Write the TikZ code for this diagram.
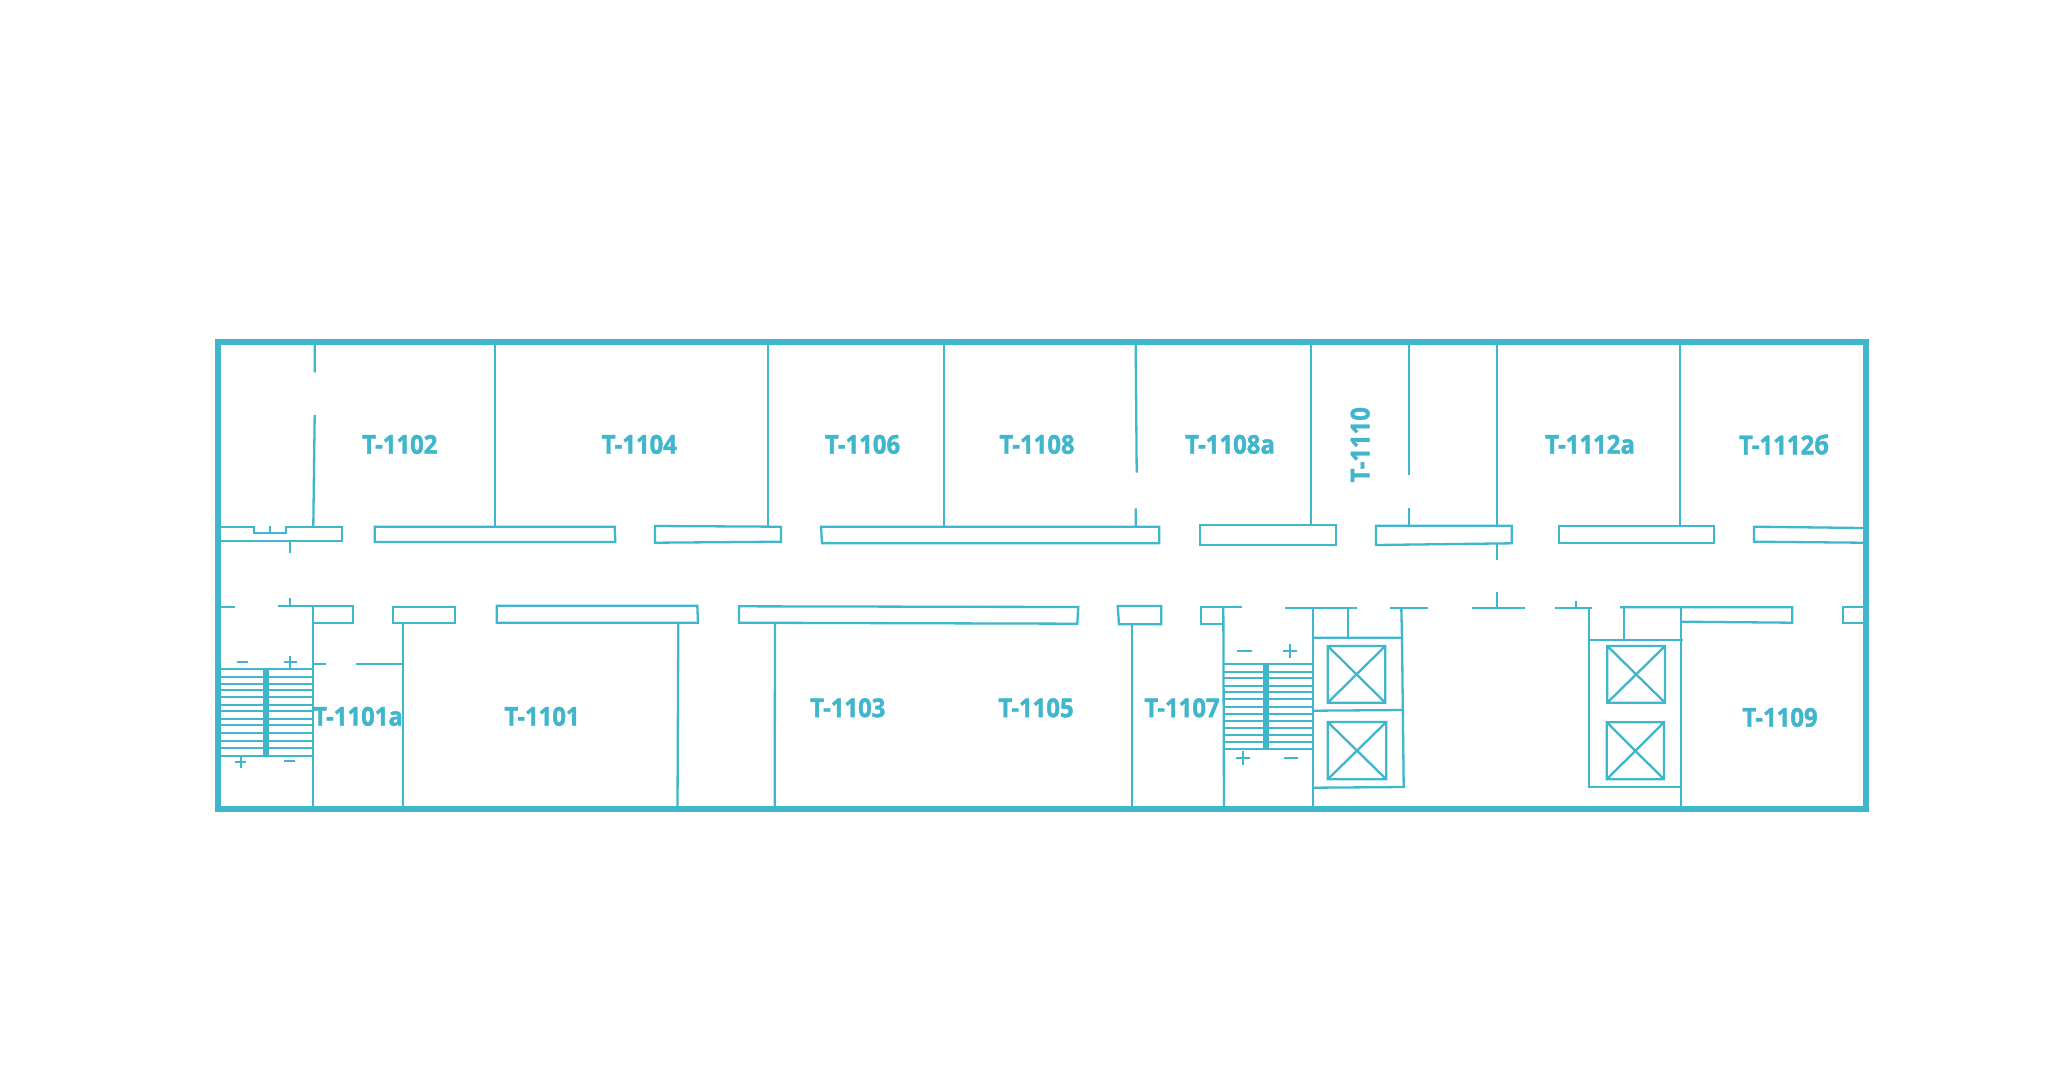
\documentclass[tikz,border=0pt]{standalone}
\usepackage{fontspec}
\newfontfamily\roomfont{Open Sans}[BoldFeatures={FakeBold=1.6}]
\definecolor{wallc}{HTML}{3FB6CC}
\newcommand{\rl}[1]{\scalebox{0.92}[1]{#1}}
\tikzset{
  wall/.style={draw=wallc,line width=2.3pt,line cap=butt,line join=miter},
  outer/.style={draw=wallc,line width=6pt,line join=miter},
  bar/.style={draw=wallc,line width=6pt},
  room/.style={text=wallc,inner sep=0pt,font=\roomfont\bfseries\fontsize{26}{26}\selectfont,text depth=0pt,anchor=center}
}
\begin{document}
\begin{tikzpicture}[x=1pt,y=-1pt]
\useasboundingbox (0,0) rectangle (2048,1080);
\fill[white] (0,0) rectangle (2048,1080);
% outer frame
\draw[outer] (218,342.2) rectangle (1866,809);
% upper room walls
\draw[wall] (314.7,345)--(314.7,372.3) (314.7,415)--(313.3,526);
\draw[wall] (494.7,345)--(494.7,526.7);
\draw[wall] (768.3,345)--(768.3,526.7);
\draw[wall] (943.7,345)--(943.7,526.7);
\draw[wall] (1135.7,345)--(1136.7,472.7) (1135.7,508.3)--(1135.7,526.7);
\draw[wall] (1310.7,345)--(1310.7,525.3);
\draw[wall] (1408.7,345)--(1408.7,475.3) (1408.7,507.7)--(1408.7,525.3);
\draw[wall] (1496.7,345)--(1496.7,525.3) (1496.7,543.3)--(1496.7,560) (1496.7,591.7)--(1496.7,607.5);
\draw[wall] (1680.3,345)--(1680.3,525.3);
% upper corridor blocks
\draw[wall] (221,526.7)--(254,526.7)--(254,532.7)--(285.7,532.7)--(285.7,526.7)--(341.7,526.7)--(341.7,541)--(221,541);
\draw[wall] (269.7,526)--(269.7,532.7);
\draw[wall] (290.3,541)--(290.3,552.7);
\draw[wall] (374.7,526.7)--(614.7,526.7)--(615.3,542)--(374.7,542)--cycle;
\draw[wall] (655,526)--(781,526.7)--(781,541.7)--(655,542.7)--cycle;
\draw[wall] (821,526.7)--(1159.3,526.7)--(1159.3,543.3)--(822,543.3)--cycle;
\draw[wall] (1200.3,525.3)--(1335.7,525.3)--(1335.7,544.7)--(1200.3,544.7)--cycle;
\draw[wall] (1376,525.7)--(1511.7,525.7)--(1511.7,543.3)--(1376,545)--cycle;
\draw[wall] (1559,525.7)--(1714,525.7)--(1714,543.3)--(1559,543.3)--cycle;
\draw[wall] (1863,528)--(1754,526.7)--(1754,541.7)--(1863,542.7);
% lower corridor, left part
\draw[wall] (221,606.7)--(235,606.7);
\draw[wall] (278.3,605.7)--(352.7,605.7)--(352.7,623.3)--(313,623.3);
\draw[wall] (290.3,598.3)--(290.3,605.7);
\draw[wall] (313,605.7)--(313,809);
\draw[wall] (393.3,606.7)--(455,606.7)--(455,622.7)--(393.3,622.7)--cycle;
\draw[wall] (403.3,622.7)--(403.3,809);
\draw[wall] (313,664.3)--(325.7,664.3) (356,664.3)--(403.3,664.3);
\draw[wall] (496.7,605.7)--(697.3,605.7)--(698,622.7)--(496.7,622.7)--cycle;
\draw[wall] (678.3,622.7)--(677.5,809);
\draw[wall] (739,606.3)--(1078.3,607)--(1077.3,623.7)--(739,622.7)--cycle;
\draw[wall] (775,622.7)--(774.7,809);
\draw[wall] (1117.7,606)--(1161.3,606)--(1161.3,624.3)--(1119,624.3)--cycle;
\draw[wall] (1132.3,624.3)--(1132.3,809);
\draw[wall] (1242.3,606.7)--(1201.3,606.7)--(1201.3,623.7)--(1223,623.7);
\draw[wall] (1223.3,606.7)--(1224,809);
% lower corridor, middle part
\draw[wall] (1285,608)--(1356.7,608);
\draw[wall] (1313.3,608)--(1313.3,809);
\draw[wall] (1348.3,608)--(1348.3,637.7);
\draw[wall] (1390,608)--(1427.7,608);
\draw[wall] (1401.3,608)--(1402,637.7)--(1313.3,637.7);
\draw[wall] (1402,637.7)--(1403.7,787)--(1313.3,787.7);
\draw[wall] (1313.3,710.7)--(1402.7,710);
\draw[wall] (1472.3,608)--(1525.3,608);
\draw[wall] (1555,608)--(1592.3,608);
\draw[wall] (1575.7,601)--(1575.7,608);
\draw[wall] (1588.7,608)--(1588.7,787)--(1680,787);
\draw[wall] (1588.7,640)--(1682.7,640);
% lower corridor, right part
\draw[wall] (1620,607.3)--(1792.3,607.3)--(1792.3,622.7)--(1680.7,621.7);
\draw[wall] (1624,607.3)--(1624,640);
\draw[wall] (1680.7,607.3)--(1680.7,809);
\draw[wall] (1863,606.7)--(1843,606.7)--(1843,623.3)--(1863,623.3);
% lift shafts
\draw[wall] (1327.7,646) rectangle (1385.3,702.7) (1327.7,646)--(1385.3,702.7) (1385.3,646)--(1327.7,702.7);
\draw[wall] (1327.7,722) rectangle (1386.3,779.3) (1327.7,722)--(1386.3,779.3) (1386.3,722)--(1327.7,779.3);
\draw[wall] (1607.3,646) rectangle (1665,702.7) (1607.3,646)--(1665,702.7) (1665,646)--(1607.3,702.7);
\draw[wall] (1606.7,722.3) rectangle (1664,779.3) (1606.7,722.3)--(1664,779.3) (1664,722.3)--(1606.7,779.3);
% left stairs
\foreach \z in {238,260,282,300,321,344,364,388,406,428,452,473,497}
  \draw[wall] (221,590+\z/3)--(313,590+\z/3);
\draw[bar] (266,668.3)--(266,755.7);
\draw[wall] (236.7,662)--(247.7,662);
\draw[wall] (284,662)--(296.6,662) (290.3,655.7)--(290.3,668);
\draw[wall] (235.2,762.3)--(246.2,762.3) (240.7,756.8)--(240.7,767.8);
\draw[wall] (284,761.3)--(295,761.3);
% right stairs
\foreach \z in {223,245,264,287,306,327,351,372,392,413,434,456,476}
  \draw[wall] (1223,590+\z/3)--(1313,590+\z/3);
\draw[bar] (1266.3,663.3)--(1266.3,749.3);
\draw[wall] (1237.3,651.3)--(1251.7,651.3);
\draw[wall] (1283.3,651.3)--(1297.3,651.3) (1290.3,644.3)--(1290.3,658.3);
\draw[wall] (1236,758.3)--(1250,758.3) (1243,751.3)--(1243,765.3);
\draw[wall] (1284.3,758)--(1298,758);
% labels
\node[room] (r1102) at (399.8,444.3) {\rl{T-1102}};
\node[room] (r1104) at (639.3,444.3) {\rl{T-1104}};
\node[room] (r1106) at (862.5,444.3) {\rl{T-1106}};
\node[room] (r1108) at (1037,444.3) {\rl{T-1108}};
\node[room] (r1108a) at (1230,444.3) {\rl{T-1108a}};
\node[room,rotate=90] (r1110) at (1360,444.7) {\rl{T-1110}};
\node[room] (r1112a) at (1590,444.3) {\rl{T-1112a}};
\node[room] (r1112b) at (1784,444.3) {\rl{T-1112б}};
\node[room] (r1101a) at (358,716.3) {\rl{T-1101a}};
\node[room] (r1101) at (542,716.3) {\rl{T-1101}};
\node[room] (r1103) at (847.8,707.7) {\rl{T-1103}};
\node[room] (r1105) at (1036,707.7) {\rl{T-1105}};
\node[room] (r1107) at (1182,707.7) {\rl{T-1107}};
\node[room] (r1109) at (1780,717.3) {\rl{T-1109}};
\end{tikzpicture}
\end{document}
